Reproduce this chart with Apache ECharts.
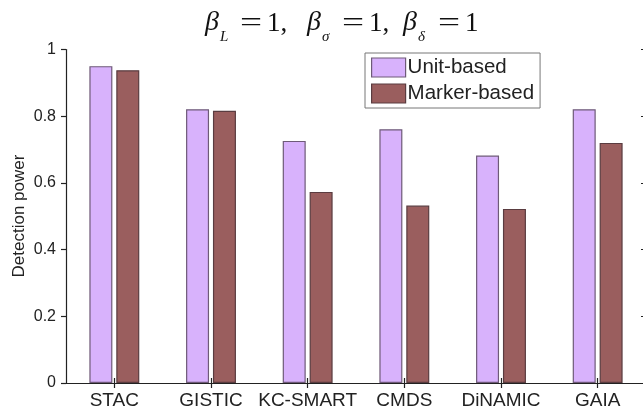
<!DOCTYPE html>
<html>
<head>
<meta charset="utf-8">
<style>
  html, body { margin: 0; padding: 0; background: #fff; }
  #chart { width: 643px; height: 411px; }
</style>
<script src="https://cdn.jsdelivr.net/npm/echarts@6/dist/echarts.min.js"></script>
</head>
<body>
<div id="chart"></div>
<script>
// Detection power of each method under unit-based and marker-based evaluation
const methods = ['STAC', 'GISTIC', 'KC-SMART', 'CMDS', 'DiNAMIC', 'GAIA'];
const unitBased = [0.950, 0.821, 0.726, 0.761, 0.682, 0.821];
const markerBased = [0.938, 0.816, 0.573, 0.532, 0.522, 0.720];
const yTicks = [0, 0.2, 0.4, 0.6, 0.8, 1];
const paramSubscripts = ['L', 'σ', 'δ'];
const paramValues = ['1,', '1,', '1'];

const chart = echarts.init(document.getElementById('chart'), null, { renderer: 'canvas' });

const axisLine = { show: true, lineStyle: { color: '#222', width: 1.2 } };
const tickIn = { show: true, inside: true, length: 5, lineStyle: { color: '#222', width: 1.2 } };
const tickOut = { show: true, inside: false, length: 5, lineStyle: { color: '#222', width: 1.2 } };

// Heading "β_L = 1,  β_σ = 1,  β_δ = 1" typeset piece by piece
const serif = 'Liberation Serif';
const headingBaseY = 37;
const groupStarts = [205, 307, 403];
const heading = [];
paramSubscripts.forEach((sub, i) => {
  const x0 = groupStarts[i];
  heading.push({
    type: 'text', x: x0, y: headingBaseY, silent: true,
    style: { text: 'β', font: 'italic 28px "' + serif + '"', fill: '#111', align: 'left', verticalAlign: 'bottom' }
  });
  heading.push({
    type: 'text', x: x0 + 15, y: headingBaseY + 8, silent: true,
    style: { text: sub, font: 'italic 15px "' + serif + '"', fill: '#111', align: 'left', verticalAlign: 'bottom' }
  });
  heading.push({
    type: 'text', x: x0 + 46, y: headingBaseY, scaleX: 1.45, silent: true,
    style: { text: '=', font: '27px "' + serif + '"', fill: '#111', align: 'center', verticalAlign: 'bottom' }
  });
  heading.push({
    type: 'text', x: x0 + 62, y: headingBaseY, silent: true,
    style: { text: paramValues[i], font: '27px "' + serif + '"', fill: '#111', align: 'left', verticalAlign: 'bottom' }
  });
});

chart.setOption({
  animation: false,
  backgroundColor: '#fff',
  graphic: heading.concat([
    {
      type: 'text', x: 19, y: 216, rotation: Math.PI / 2, silent: true,
      style: { text: 'Detection power', font: '17px "Liberation Sans"', fill: '#222', align: 'center', verticalAlign: 'middle' }
    }
  ]),
  legend: {
    orient: 'vertical',
    left: 365,
    top: 53,
    padding: [4, 6, 4, 6],
    icon: 'rect',
    itemWidth: 34,
    itemHeight: 19,
    itemGap: 5,
    backgroundColor: '#fff',
    borderColor: '#777',
    borderWidth: 1,
    borderRadius: 0,
    itemStyle: { borderWidth: 1.2 },
    textStyle: { fontFamily: 'Liberation Sans', fontSize: 20.5, lineHeight: 21, color: '#222', padding: [0, 0, 0, -3] },
    data: ['Unit-based', 'Marker-based']
  },
  grid: { left: 66, top: 49.5, width: 580, height: 333.5, outerBoundsMode: 'none', containLabel: false },
  xAxis: [
    {
      type: 'category',
      data: methods,
      position: 'bottom',
      axisLine: axisLine,
      axisTick: Object.assign({ alignWithLabel: true }, tickIn),
      axisLabel: { interval: 0, fontFamily: 'Liberation Sans', fontSize: 19, color: '#222', margin: 8 }
    },
    {
      type: 'category',
      data: methods,
      position: 'top',
      axisLine: axisLine,
      axisTick: Object.assign({ alignWithLabel: true }, tickIn),
      axisLabel: { show: false }
    }
  ],
  yAxis: [
    {
      type: 'value',
      min: yTicks[0],
      max: yTicks[yTicks.length - 1],
      interval: 0.2,
      axisLine: axisLine,
      axisTick: tickOut,
      splitLine: { show: false },
      axisLabel: { fontFamily: 'Liberation Sans', fontSize: 16, color: '#222', margin: 10,
        formatter: v => String(Math.round(v * 10) / 10) }
    },
    {
      type: 'value',
      min: yTicks[0],
      max: yTicks[yTicks.length - 1],
      interval: 0.2,
      position: 'right',
      axisLine: axisLine,
      axisTick: tickIn,
      splitLine: { show: false },
      axisLabel: { show: false }
    }
  ],
  series: [
    {
      name: 'Unit-based',
      type: 'bar',
      data: unitBased,
      barWidth: 23,
      barGap: '17%',
      itemStyle: { color: '#d8b2fc', borderColor: '#6e5a78', borderWidth: 1.2 }
    },
    {
      name: 'Marker-based',
      type: 'bar',
      data: markerBased,
      barWidth: 23,
      barGap: '17%',
      itemStyle: { color: '#9a5e5e', borderColor: '#5a3c40', borderWidth: 1.2 }
    }
  ]
});
</script>
</body>
</html>
